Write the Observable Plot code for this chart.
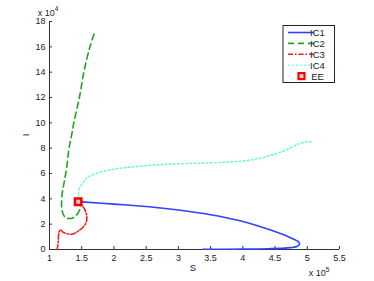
<!DOCTYPE html>
<html>
<head>
<meta charset="utf-8">
<script src="https://cdn.jsdelivr.net/npm/d3@7"></script>
<script src="https://cdn.jsdelivr.net/npm/@observablehq/plot@0.6"></script>
<style>
  html, body { margin: 0; padding: 0; background: #fff; }
  svg { display: block; }
</style>
</head>
<body>
<div id="chart"></div>
<script>
// Values in units of 1e5 (S) and 1e4 (I)
const xTicks = [1, 1.5, 2, 2.5, 3, 3.5, 4, 4.5, 5, 5.5];
const xTickLabels = ["1", "1.5", "2", "2.5", "3", "3.5", "4", "4.5", "5", "5.5"];
const yTicks = [0, 2, 4, 6, 8, 10, 12, 14, 16, 18];

const ic1S = [3.38, 4.0, 4.4, 4.7, 4.84, 4.88, 4.86, 4.73, 4.42, 3.96, 3.5, 3.0, 2.5, 2.0, 1.5, 1.445];
const ic1I = [0.02, 0.03, 0.06, 0.13, 0.24, 0.42, 0.62, 0.95, 1.55, 2.27, 2.75, 3.12, 3.39, 3.58, 3.76, 3.77];

const ic2S = [1.69, 1.624, 1.531, 1.464, 1.376, 1.336, 1.30, 1.27, 1.235, 1.196, 1.196, 1.25, 1.35, 1.43, 1.48, 1.48];
const ic2I = [17.0, 15.94, 13.97, 12.0, 9.97, 8.84, 7.9, 6.6, 5.5, 4.37, 3.05, 2.52, 2.47, 2.79, 3.31, 3.58];

const ic3S = [1.12, 1.135, 1.145, 1.17, 1.22, 1.35, 1.45, 1.557, 1.58, 1.557, 1.51, 1.445];
const ic3I = [0.0, 0.6, 1.3, 1.55, 1.34, 1.21, 1.47, 2.0, 2.52, 3.05, 3.45, 3.77];

const ic4S = [1.445, 1.45, 1.46, 1.52, 1.61, 1.71, 1.9, 2.3, 2.873, 3.65, 4.11, 4.31, 4.53, 4.73, 4.885, 4.99, 5.07];
const ic4I = [3.77, 4.24, 4.77, 5.29, 5.75, 5.97, 6.25, 6.53, 6.74, 6.87, 7.05, 7.26, 7.58, 8.0, 8.37, 8.5, 8.48];

const eeS = [1.445];
const eeI = [3.77];

const seriesNames = ["IC1", "IC2", "IC3", "IC4", "EE"];
const colors = {IC1: "#2a44ff", IC2: "#1fa51f", IC3: "#ff1a1a", IC4: "#66ffcc", EE: "#ff0000"};
const dashes = {IC1: null, IC2: "6,4", IC3: "5,2,1.5,2", IC4: "1.5,2.6"};

const toRows = (S, I) => S.map((s, i) => ({s, i: I[i]}));
const font = "'Liberation Sans', Arial, Helvetica, sans-serif";

const lineMark = (name, S, I) => Plot.line(toRows(S, I), {
  x: "s", y: "i", stroke: colors[name], strokeWidth: 1.6,
  strokeDasharray: dashes[name], curve: "monotone-y" === name ? "linear" : "catmull-rom"
});

const chart = Plot.plot({
  width: 374,
  height: 281,
  marginLeft: 49,
  marginRight: 35,
  marginTop: 21,
  marginBottom: 32,
  style: {fontFamily: font, fontSize: "9px", color: "#222", background: "#fff"},
  x: {domain: [1, 5.5]},
  y: {domain: [0, 18]},
  marks: [
    Plot.axisX({ticks: xTicks, tickSize: 0, tickPadding: 5, tickFormat: (d, i) => xTickLabels[i], label: null, fontSize: 9, fill: "#222"}),
    Plot.axisY({ticks: yTicks, tickSize: 0, tickPadding: 4, label: null, fontSize: 9, fill: "#222"}),
    Plot.ruleX(xTicks, {x: d => d, y1: 0, y2: 0, insetTop: -3, stroke: "#333"}),
    Plot.ruleY(yTicks, {y: d => d, x1: 1, x2: 1, insetRight: -3, stroke: "#333"}),
    Plot.ruleY([0], {stroke: "#333"}),
    Plot.ruleX([1], {stroke: "#333"}),
    lineMark("IC1", ic1S, ic1I),
    lineMark("IC2", ic2S, ic2I),
    lineMark("IC3", ic3S, ic3I),
    lineMark("IC4", ic4S, ic4I),
    Plot.dot(toRows(eeS, eeI), {x: "s", y: "i", symbol: "square", r: 3.6, stroke: colors.EE, strokeWidth: 2.6, fill: "#ffd0d0"})
  ]
});

const svg = d3.select(chart);
// axis labels and exponents
svg.append("text").attr("x", 193).attr("y", 271).attr("text-anchor", "middle")
  .attr("font-size", 9.5).attr("font-family", font).attr("fill", "#222").text("S");
svg.append("text").attr("transform", "translate(29,135) rotate(-90)").attr("text-anchor", "middle")
  .attr("font-size", 9.5).attr("font-family", font).attr("fill", "#222").text("I");

function exponent(x, y, base, exp) {
  const t = svg.append("text").attr("x", x).attr("y", y).attr("font-size", 9)
    .attr("font-family", font).attr("fill", "#222");
  t.append("tspan").text(base);
  t.append("tspan").attr("dy", -4.5).attr("font-size", 6.5).text(exp);
}
exponent(48, 15.5, "x 10", "4");
exponent(319, 276, "x 10", "5");

// legend
const lg = svg.append("g").attr("font-family", font).attr("font-size", 9.5).attr("fill", "#222");
lg.append("rect").attr("x", 283).attr("y", 25.5).attr("width", 51.5).attr("height", 57)
  .attr("fill", "#fff").attr("stroke", "#222").attr("stroke-width", 1);
seriesNames.forEach((name, k) => {
  const y = 32.5 + k * 10.9;
  if (name === "EE") {
    lg.append("rect").attr("x", 298.5).attr("y", y - 3).attr("width", 6).attr("height", 6)
      .attr("fill", "#ffd0d0").attr("stroke", colors.EE).attr("stroke-width", 2.2);
  } else {
    lg.append("line").attr("x1", 288).attr("x2", 314).attr("y1", y).attr("y2", y)
      .attr("stroke", colors[name]).attr("stroke-width", 1.6)
      .attr("stroke-dasharray", dashes[name]);
  }
  lg.append("text").attr("x", 317.5).attr("y", y + 3.4).text(name);
});

document.getElementById("chart").appendChild(chart);
</script>
</body>
</html>
